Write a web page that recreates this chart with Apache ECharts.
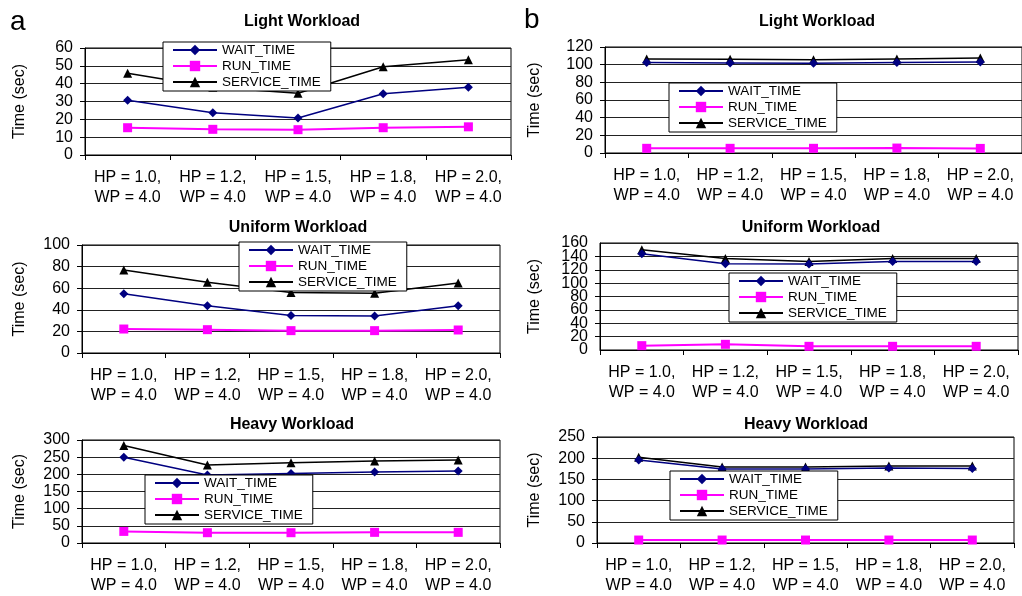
<!DOCTYPE html>
<html>
<head>
<meta charset="utf-8">
<script src="https://cdn.jsdelivr.net/npm/echarts@6/dist/echarts.min.js"></script>
<style>html,body{margin:0;padding:0;background:#fff;}#c{width:1022px;height:596px;}</style>
</head>
<body>
<div id="c"></div>
<script>
// ---- data ----
const categories = ['HP = 1.0,\nWP = 4.0', 'HP = 1.2,\nWP = 4.0', 'HP = 1.5,\nWP = 4.0', 'HP = 1.8,\nWP = 4.0', 'HP = 2.0,\nWP = 4.0'];
const seriesNames = ['WAIT_TIME', 'RUN_TIME', 'SERVICE_TIME'];
const panelTitles = ['Light Workload', 'Light Workload', 'Uniform Workload', 'Uniform Workload', 'Heavy Workload', 'Heavy Workload'];
const panelLetters = ['a', 'b'];
const yAxisTitle = 'Time (sec)';

const lightA_wait = [30.7, 23.7, 20.7, 34.3, 38.0];
const lightA_run = [15.3, 14.4, 14.2, 15.3, 15.8];
const lightA_service = [45.8, 38.0, 34.6, 49.5, 53.4];

const lightB_wait = [102.5, 102, 101.5, 102.5, 103];
const lightB_run = [5.3, 5.3, 5.3, 5.6, 5.2];
const lightB_service = [106.3, 106, 105.5, 106.5, 107.5];

const uniformA_wait = [54.8, 43.8, 34.8, 34.2, 43.8];
const uniformA_run = [22.2, 21.6, 20.7, 20.7, 21.3];
const uniformA_service = [76.9, 65.5, 56, 55.3, 64.9];

const uniformB_wait = [144, 129, 128.5, 132.5, 132.5];
const uniformB_run = [6.5, 8.5, 5.5, 5.5, 5.5];
const uniformB_service = [150, 137, 132.5, 137, 137];

const heavyA_wait = [250, 198, 202.6, 206.9, 209.7];
const heavyA_run = [33.8, 30, 30, 31, 31];
const heavyA_service = [284, 227, 233.5, 239, 242];

const heavyB_wait = [196, 174.5, 174.5, 177, 176];
const heavyB_run = [7, 7, 7, 7, 7];
const heavyB_service = [202, 179, 179, 181.5, 181.5];

const yMax = [60, 120, 100, 160, 300, 250];
const yInterval = [10, 20, 20, 20, 50, 50];

const panelData = [
  [lightA_wait, lightA_run, lightA_service],
  [lightB_wait, lightB_run, lightB_service],
  [uniformA_wait, uniformA_run, uniformA_service],
  [uniformB_wait, uniformB_run, uniformB_service],
  [heavyA_wait, heavyA_run, heavyA_service],
  [heavyB_wait, heavyB_run, heavyB_service]
];

// ---- layout ----
const FONT = 'Liberation Sans, Arial, sans-serif';
const grids = [
  {left: 85, top: 48, width: 426, height: 107},
  {left: 605, top: 47, width: 417, height: 106},
  {left: 82, top: 245, width: 418, height: 108},
  {left: 600, top: 243, width: 418, height: 107},
  {left: 82, top: 440, width: 418, height: 107},
  {left: 597, top: 437, width: 417, height: 107}
];
const nameGaps = [57, 62, 54, 57, 54, 54];
const legendPos = [
  {left: 163, top: 42}, {left: 669, top: 83},
  {left: 239, top: 242}, {left: 729, top: 273},
  {left: 145, top: 475}, {left: 670, top: 471}
];
const titlePos = [[302, 22], [817, 22], [298, 228], [811, 228], [292, 425], [806, 425]];
const letterPos = [[10, 22], [524, 20]];
const densePanel = 3; // y labels too close: min/max labels drawn by a companion axis

const styles = [
  {color: '#000080', symbol: 'diamond', size: [9, 9], width: 1.5},
  {color: '#FF00FF', symbol: 'rect', size: 9, width: 2},
  {color: '#000000', symbol: 'triangle', size: 9, width: 1.5}
];

const option = {
  animation: false,
  backgroundColor: '#fff',
  grid: [], xAxis: [], yAxis: [], series: [], legend: [], graphic: []
};

const yLabelStyle = {fontSize: 16, color: '#000', fontFamily: FONT, margin: 12};

grids.forEach((g, i) => {
  option.grid.push(Object.assign({show: true, borderColor: '#000', borderWidth: 1, containLabel: false}, g));
  option.xAxis.push({
    type: 'category', gridIndex: i, data: categories, boundaryGap: true,
    axisLine: {lineStyle: {color: '#000', width: 1}},
    axisTick: {show: true, length: 5, lineStyle: {color: '#000'}},
    axisLabel: {interval: 0, fontSize: 16, color: '#000', fontFamily: FONT, lineHeight: 20, margin: 13}
  });
  const dense = i === densePanel;
  option.yAxis.push({
    type: 'value', gridIndex: i, min: 0, max: yMax[i], interval: yInterval[i],
    name: yAxisTitle, nameLocation: 'middle', nameGap: nameGaps[i],
    nameTextStyle: {fontSize: 16, color: '#000', fontFamily: FONT},
    axisLine: {show: true, lineStyle: {color: '#000', width: 1}},
    axisTick: {show: true, length: 5, lineStyle: {color: '#000'}},
    axisLabel: Object.assign({showMinLabel: !dense, showMaxLabel: !dense, hideOverlap: false}, yLabelStyle),
    splitLine: {show: true, lineStyle: {color: '#222', width: 1}}
  });
  seriesNames.forEach((nm, k) => {
    const s = styles[k];
    option.series.push({
      name: nm, type: 'line', xAxisIndex: i, yAxisIndex: i,
      data: panelData[i][k],
      symbol: s.symbol, symbolSize: s.size, showSymbol: true,
      lineStyle: {color: s.color, width: s.width},
      itemStyle: {color: s.color},
      z: 3 + (k === 0 ? 1 : 0)
    });
  });
  option.legend.push({
    data: seriesNames, orient: 'vertical',
    left: legendPos[i].left, top: legendPos[i].top,
    itemWidth: 44, itemHeight: 13, itemGap: 2,
    padding: [1, 10, 2, 9],
    backgroundColor: '#fff', borderColor: '#000', borderWidth: 1,
    textStyle: {fontSize: 13.5, color: '#000', fontFamily: FONT},
    selectedMode: false, z: 10
  });
  option.graphic.push({
    type: 'text', x: titlePos[i][0], y: titlePos[i][1],
    style: {text: panelTitles[i], fill: '#000', font: 'bold 16px ' + FONT,
      textAlign: 'center', textVerticalAlign: 'middle', align: 'center', verticalAlign: 'middle'}
  });
});
// companion axis carrying the 0 and max labels of the dense panel
option.yAxis.push({
  type: 'value', gridIndex: densePanel, position: 'left', min: 0, max: yMax[densePanel], interval: yMax[densePanel],
  axisLine: {show: false}, axisTick: {show: false}, splitLine: {show: false},
  axisLabel: Object.assign({showMinLabel: true, showMaxLabel: true}, yLabelStyle)
});
panelLetters.forEach((t, j) => {
  option.graphic.push({
    type: 'text', x: letterPos[j][0], y: letterPos[j][1],
    style: {text: t, fill: '#000', font: '28px ' + FONT,
      textAlign: 'left', textVerticalAlign: 'middle', align: 'left', verticalAlign: 'middle'}
  });
});

const chart = echarts.init(document.getElementById('c'), null, {renderer: 'canvas'});
chart.setOption(option);
</script>
</body>
</html>
